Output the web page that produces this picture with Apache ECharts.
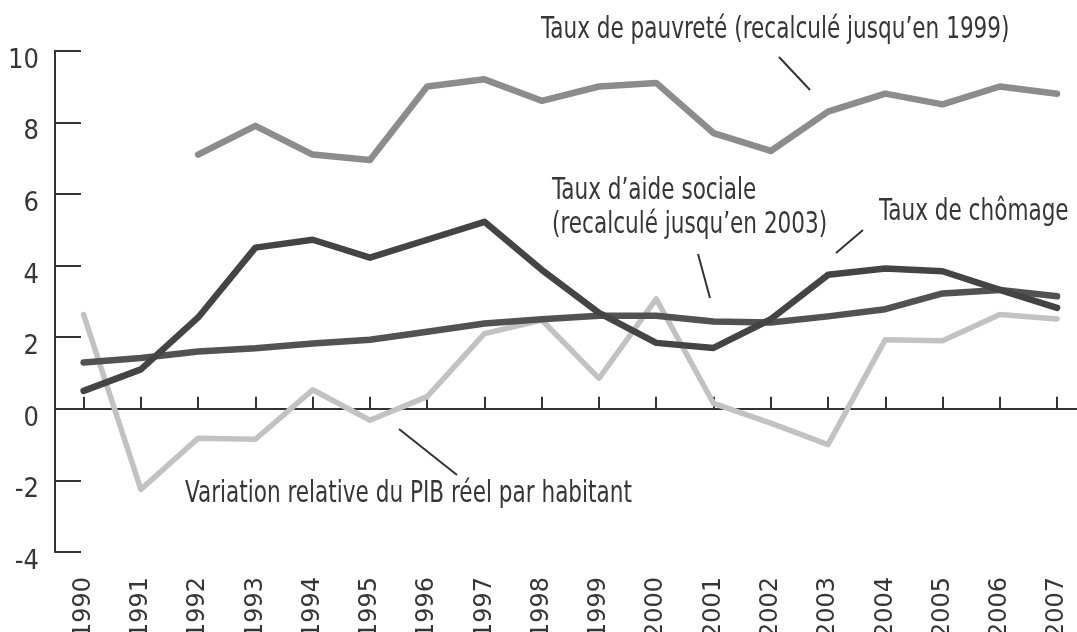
<!DOCTYPE html>
<html>
<head>
<meta charset="utf-8">
<script src="https://cdn.jsdelivr.net/npm/echarts@6/dist/echarts.min.js"></script>
<style>
  html, body { margin: 0; padding: 0; background: #fff; }
  #chart-container { width: 1077px; height: 632px; }
</style>
</head>
<body>
<div id="chart-container"></div>
<script>
var years = ['1990', '1991', '1992', '1993', '1994', '1995', '1996', '1997', '1998',
  '1999', '2000', '2001', '2002', '2003', '2004', '2005', '2006', '2007'];
var pauvrete = [null, null, 7.1, 7.9, 7.1, 6.95, 9.0, 9.2, 8.6, 9.0, 9.1, 7.7, 7.2, 8.3, 8.8, 8.5, 9.0, 8.8];
var aideSociale = [0.5, 1.1, 2.55, 4.5, 4.72, 4.22, 4.72, 5.22, 3.88, 2.68, 1.84, 1.7, 2.5, 3.74, 3.92, 3.84, 3.32, 2.82];
var chomage = [1.29, 1.42, 1.6, 1.69, 1.82, 1.93, 2.15, 2.38, 2.5, 2.6, 2.6, 2.44, 2.41, 2.58, 2.78, 3.22, 3.32, 3.14];
var pib = [2.63, -2.25, -0.82, -0.85, 0.53, -0.32, 0.34, 2.1, 2.48, 0.85, 3.07, 0.15, -0.4, -1.0, 1.93, 1.9, 2.63, 2.51];

var FONT = "'DejaVu Sans Condensed', 'Liberation Sans', sans-serif";
var TXT = '#363636';

var dom = document.getElementById('chart-container');
var myChart = echarts.init(dom, null, { renderer: 'canvas' });

function line(name, data, color, width) {
  return {
    name: name,
    type: 'line',
    xAxisIndex: 0,
    data: data,
    symbol: 'none',
    connectNulls: false,
    lineStyle: { color: color, width: width, cap: 'round', join: 'round' }
  };
}

// annotation text, squeezed horizontally to mimic the condensed face
function label(text, x, y) {
  return {
    type: 'text',
    x: x,
    y: y,
    scaleX: 0.8,
    style: { text: text, fontSize: 30, fontFamily: FONT, fill: TXT, verticalAlign: 'middle' }
  };
}

function pointer(x1, y1, x2, y2) {
  return {
    type: 'line',
    shape: { x1: x1, y1: y1, x2: x2, y2: y2 },
    style: { stroke: '#333', lineWidth: 2 }
  };
}

var option = {
  animation: false,
  backgroundColor: '#fff',
  grid: { left: 55, right: -8.7, top: 50.7, bottom: 80, containLabel: false, outerBoundsMode: 'none' },
  xAxis: [
    {
      // line + ticks sitting on zero
      type: 'category',
      data: years,
      boundaryGap: true,
      axisLine: { onZero: true, lineStyle: { color: '#333', width: 2 } },
      axisTick: { show: true, alignWithLabel: true, inside: true, length: 12, interval: 0, lineStyle: { color: '#333', width: 2 } },
      axisLabel: { show: true, interval: 0, color: 'rgba(0,0,0,0)', fontSize: 10 },
      splitLine: { show: false }
    },
    {
      // year labels only, kept at the bottom
      type: 'category',
      data: years,
      position: 'bottom',
      boundaryGap: true,
      axisLine: { show: false, onZero: false },
      axisTick: { show: false },
      axisLabel: { rotate: 90, margin: 25, fontSize: 24, fontFamily: "'DejaVu Sans', sans-serif", color: TXT },
      splitLine: { show: false }
    }
  ],
  yAxis: {
    type: 'value',
    min: -4,
    max: 10,
    interval: 2,
    axisLine: { show: true, lineStyle: { color: '#333', width: 2 } },
    axisTick: { show: true, inside: true, length: 26, lineStyle: { color: '#333', width: 2 } },
    axisLabel: { fontSize: 27, fontFamily: FONT, color: TXT, margin: 16, verticalAlign: 'top', lineHeight: 20 },
    splitLine: { show: false }
  },
  series: [
    line('Variation relative du PIB réel par habitant', pib, '#c2c2c2', 5.5),
    line('Taux de chômage', chomage, '#525252', 6.5),
    line('Taux d’aide sociale', aideSociale, '#444444', 6.5),
    line('Taux de pauvreté', pauvrete, '#8c8c8c', 6.5)
  ],
  graphic: [
    label('Taux de pauvreté (recalculé jusqu’en 1999)', 541, 30),
    pointer(779, 57, 810, 90),
    label('Taux d’aide sociale', 552, 191),
    label('(recalculé jusqu’en 2003)', 552, 225),
    pointer(698, 254, 710, 298),
    label('Taux de chômage', 879, 212),
    pointer(836, 253, 863, 230),
    label('Variation relative du PIB réel par habitant', 185, 494),
    pointer(399, 429, 457, 475)
  ]
};

myChart.setOption(option);
window.addEventListener('resize', myChart.resize);
</script>
</body>
</html>
